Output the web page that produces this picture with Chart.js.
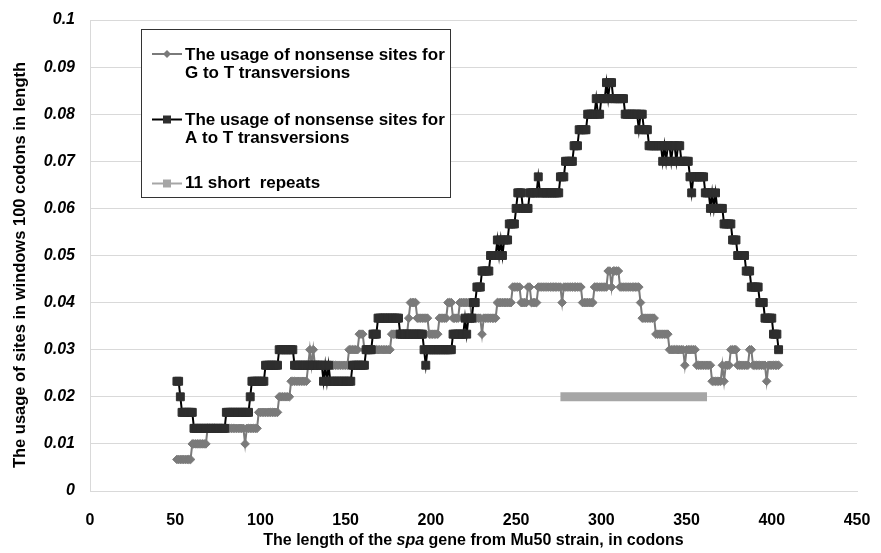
<!DOCTYPE html>
<html>
<head>
<meta charset="utf-8">
<script src="https://cdn.jsdelivr.net/npm/chart.js@4/dist/chart.umd.min.js"></script>
<style>
  html, body { margin: 0; padding: 0; background: #fff; }
  #wrap { width: 881px; height: 553px; }
</style>
</head>
<body>
<div id="wrap"><canvas id="chart" width="881" height="553"></canvas></div>
<script>
// sliding-window usage, stored as runs: codon where a run starts + value held until the next run
const gtRunStart = [51, 60, 69, 91, 92, 99, 111, 118, 128, 129, 130, 131, 132, 152, 158,
  161, 177, 187, 188, 192, 199, 205, 210, 213, 217, 224, 230, 231, 239, 248,
  253, 257, 259, 263, 277, 278, 289, 296, 304, 306, 307, 311, 323, 324, 332,
  340, 349, 350, 356, 365, 371, 372, 373, 376, 380, 387, 389, 397, 398];
const gtRunValue = [0.0067, 0.01, 0.0133, 0.01, 0.0133, 0.0167, 0.02, 0.0233, 0.0267, 0.03, 0.0267, 0.03, 0.0267, 0.03, 0.0333,
  0.03, 0.0333, 0.0367, 0.04, 0.0367, 0.0333, 0.0367, 0.04, 0.0367, 0.04, 0.0367, 0.0333, 0.0367, 0.04, 0.0433,
  0.04, 0.0433, 0.04, 0.0433, 0.04, 0.0433, 0.04, 0.0433, 0.0467, 0.0433, 0.0467, 0.0433, 0.04, 0.0367, 0.0333,
  0.03, 0.0267, 0.03, 0.0267, 0.0233, 0.0267, 0.0233, 0.0267, 0.03, 0.0267, 0.03, 0.0267, 0.0233, 0.0267];

const atRunStart = [51, 53, 54, 61, 80, 94, 95, 103, 111, 120, 137, 138, 139, 140, 141,
  154, 162, 166, 169, 182, 196, 197, 198, 213, 220, 221, 222, 225, 227, 230,
  235, 239, 240, 241, 242, 243, 246, 250, 251, 254, 258, 263, 264, 276, 279,
  284, 287, 292, 297, 298, 300, 303, 304, 305, 307, 314, 322, 323, 325, 328,
  336, 337, 338, 339, 341, 342, 344, 345, 347, 352, 353, 354, 361, 364, 365,
  366, 367, 368, 372, 377, 380, 385, 388, 393, 396, 401, 404];
const atRunValue = [0.0233, 0.02, 0.0167, 0.0133, 0.0167, 0.02, 0.0233, 0.0267, 0.03, 0.0267, 0.0233, 0.0267, 0.0233, 0.0267, 0.0233,
  0.0267, 0.03, 0.0333, 0.0367, 0.0333, 0.03, 0.0267, 0.03, 0.0333, 0.0367, 0.0333, 0.0367, 0.04, 0.0433, 0.0467,
  0.05, 0.0533, 0.05, 0.0533, 0.05, 0.0533, 0.0567, 0.06, 0.0633, 0.06, 0.0633, 0.0667, 0.0633, 0.0667, 0.07,
  0.0733, 0.0767, 0.08, 0.0833, 0.08, 0.0833, 0.0867, 0.0833, 0.0867, 0.0833, 0.08, 0.0767, 0.08, 0.0767, 0.0733,
  0.07, 0.0733, 0.07, 0.0733, 0.07, 0.0733, 0.07, 0.0733, 0.07, 0.0667, 0.0633, 0.0667, 0.0633, 0.06, 0.0633,
  0.06, 0.0633, 0.06, 0.0567, 0.0533, 0.05, 0.0467, 0.0433, 0.04, 0.0367, 0.0333, 0.03];
const lastCodon = 404;

// the 11 short repeats region
const repeatsX = [276, 362];
const repeatsY = [0.02, 0.02];

const xTicks = [0, 50, 100, 150, 200, 250, 300, 350, 400, 450];
const yTicks = [0, 0.01, 0.02, 0.03, 0.04, 0.05, 0.06, 0.07, 0.08, 0.09, 0.1];
const yTickLabels = ['0', '0.01', '0.02', '0.03', '0.04', '0.05', '0.06', '0.07', '0.08', '0.09', '0.1'];

const legendLines = [
  ['The usage of nonsense sites for', 'G to T transversions'],
  ['The usage of nonsense sites for', 'A to T transversions'],
  ['11 short  repeats']
];
const xTitleParts = ['The length of the ', 'spa', ' gene from Mu50 strain, in codons'];
const yTitle = 'The usage of sites in windows 100 codons in length';

const FONT = '"Liberation Sans", Arial, sans-serif';
const GRAY = '#7a7a7a';
const DARK = '#2e2e2e';
const LIGHT = '#a6a6a6';

function expandRuns(starts, values, end) {
  const pts = [];
  for (let i = 0; i < starts.length; i++) {
    const stop = i + 1 < starts.length ? starts[i + 1] : end + 1;
    for (let c = starts[i]; c < stop; c++) pts.push({ x: c, y: values[i] });
  }
  return pts;
}

function marker(ctx, style, x, y, r, color) {
  ctx.fillStyle = color;
  ctx.beginPath();
  if (style === 'diamond') {
    ctx.moveTo(x, y - r); ctx.lineTo(x + r, y); ctx.lineTo(x, y + r); ctx.lineTo(x - r, y);
    ctx.closePath();
  } else {
    ctx.rect(x - r, y - r, 2 * r, 2 * r);
  }
  ctx.fill();
}

const overlay = {
  id: 'overlay',
  afterDraw(chart) {
    const ctx = chart.ctx;
    const area = chart.chartArea;
    ctx.save();

    // x axis title, gene name in italics
    const fonts = ['bold 16px ' + FONT, 'italic bold 16px ' + FONT, 'bold 16px ' + FONT];
    let total = 0;
    const widths = xTitleParts.map((t, i) => { ctx.font = fonts[i]; const w = ctx.measureText(t).width; total += w; return w; });
    let x = (area.left + area.right) / 2 - total / 2;
    ctx.fillStyle = '#000';
    ctx.textBaseline = 'middle';
    ctx.textAlign = 'left';
    xTitleParts.forEach((t, i) => { ctx.font = fonts[i]; ctx.fillText(t, x, 541); x += widths[i]; });

    // y axis title
    ctx.save();
    ctx.translate(20, 265);
    ctx.rotate(-Math.PI / 2);
    ctx.textAlign = 'center';
    ctx.font = 'bold 16.5px ' + FONT;
    ctx.fillText(yTitle, 0, 0);
    ctx.restore();

    // legend
    ctx.fillStyle = '#fff';
    ctx.fillRect(141.5, 29.5, 309, 168);
    ctx.strokeStyle = '#333';
    ctx.lineWidth = 1;
    ctx.strokeRect(141.5, 29.5, 309, 168);

    const symY = [54, 119.5, 183.5];
    const textY = [[55, 73], [120, 138], [183.5]];
    const symColor = [GRAY, '#000', LIGHT];
    const markColor = [GRAY, DARK, LIGHT];
    const markStyle = ['diamond', 'square', 'square'];
    const markSize = [4, 4, 4];
    for (let i = 0; i < 3; i++) {
      ctx.strokeStyle = symColor[i];
      ctx.lineWidth = 2;
      ctx.beginPath();
      ctx.moveTo(152, symY[i]);
      ctx.lineTo(182, symY[i]);
      ctx.stroke();
      marker(ctx, markStyle[i], 167, symY[i], markSize[i], markColor[i]);
      ctx.fillStyle = '#000';
      ctx.font = 'bold 17px ' + FONT;
      legendLines[i].forEach((t, j) => ctx.fillText(t, 185, textY[i][j]));
    }
    ctx.restore();
  }
};

new Chart(document.getElementById('chart'), {
  type: 'line',
  data: {
    datasets: [
      {
        label: legendLines[1].join(' '),
        data: expandRuns(atRunStart, atRunValue, lastCodon),
        borderColor: '#000',
        borderWidth: 2,
        pointStyle: 'rect',
        pointRadius: 5.6,
        pointBackgroundColor: DARK,
        pointBorderColor: DARK,
        pointBorderWidth: 1,
        order: 1
      },
      {
        label: legendLines[0].join(' '),
        data: expandRuns(gtRunStart, gtRunValue, lastCodon),
        borderColor: GRAY,
        borderWidth: 2,
        pointStyle: 'rectRot',
        pointRadius: 4.3,
        pointBackgroundColor: GRAY,
        pointBorderColor: GRAY,
        pointBorderWidth: 1,
        order: 2
      },
      {
        label: legendLines[2][0],
        data: repeatsX.map((v, i) => ({ x: v, y: repeatsY[i] })),
        borderColor: LIGHT,
        borderWidth: 9,
        borderCapStyle: 'butt',
        pointRadius: 0,
        order: 3
      }
    ]
  },
  options: {
    responsive: false,
    animation: false,
    layout: { padding: { top: 20, right: 24, left: 0, bottom: 0 } },
    plugins: { legend: { display: false }, tooltip: { enabled: false } },
    scales: {
      x: {
        type: 'linear',
        min: 0,
        max: 450,
        afterFit: s => { s.height = 62; s.paddingLeft = 0; s.paddingRight = 0; },
        afterBuildTicks: s => { s.ticks = xTicks.map(v => ({ value: v })); },
        grid: { display: false, drawTicks: false },
        border: { color: '#d9d9d9' },
        ticks: { padding: 20, color: '#000', font: { family: FONT, size: 16, weight: 'bold' }, maxRotation: 0 }
      },
      y: {
        min: 0,
        max: 0.1,
        afterFit: s => { s.width = 90; s.paddingTop = 0; s.paddingBottom = 0; },
        afterBuildTicks: s => { s.ticks = yTicks.map(v => ({ value: v })); },
        grid: { color: '#d9d9d9', drawTicks: false },
        border: { color: '#d9d9d9' },
        ticks: {
          padding: 15,
          color: '#000',
          font: { family: FONT, size: 16, weight: 'bold', style: 'italic' },
          callback: (v, i) => yTickLabels[i]
        }
      }
    }
  },
  plugins: [overlay]
});
</script>
</body>
</html>
